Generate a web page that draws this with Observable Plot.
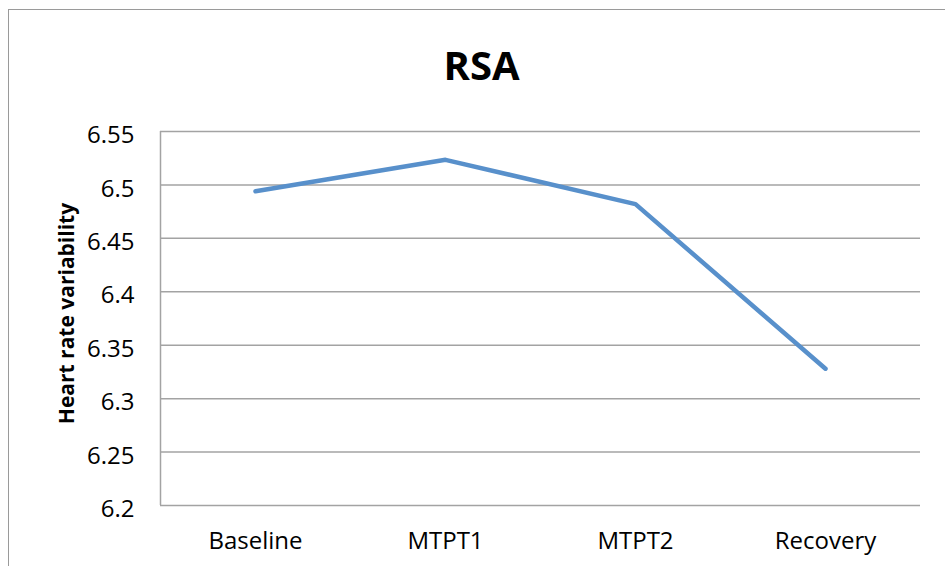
<!DOCTYPE html>
<html>
<head>
<meta charset="utf-8">
<script src="https://cdn.jsdelivr.net/npm/d3@7"></script>
<script src="https://cdn.jsdelivr.net/npm/@observablehq/plot@0.6"></script>
<style>
  html, body { margin: 0; padding: 0; background: #fff; overflow: hidden; }
  #wrap { position: relative; width: 945px; height: 566px; overflow: hidden; }
  #border { position: absolute; left: 8px; top: 9px; width: 1000px; height: 700px;
            border: 1.5px solid #9a9a9a; box-sizing: border-box; }
  #chart { position: absolute; left: 0; top: 0; }
  #chart svg { font-family: "Open Sans", sans-serif; }
</style>
</head>
<body>
<div id="wrap">
  <div id="border"></div>
  <div id="chart"></div>
</div>
<script>
// Phases of the protocol and mean RSA (heart rate variability) at each
const phases = ["Baseline", "MTPT1", "MTPT2", "Recovery"];
const rsa = [6.494, 6.5235, 6.482, 6.328];
const yTicks = [6.2, 6.25, 6.3, 6.35, 6.4, 6.45, 6.5, 6.55];
const yTickLabels = ["6.2", "6.25", "6.3", "6.35", "6.4", "6.45", "6.5", "6.55"];
const title = "RSA";
const yLabel = "Heart rate variability";

const data = phases.map((p, i) => ({i, phase: p, value: rsa[i]}));

const plot = Plot.plot({
  width: 945,
  height: 566,
  marginLeft: 160,
  marginRight: 25,
  marginTop: 131,
  marginBottom: 61,
  style: {fontFamily: "'Open Sans', sans-serif", background: "transparent"},
  x: {type: "linear", domain: [-0.5, phases.length - 0.5]},
  y: {domain: [6.2, 6.55]},
  marks: [
    Plot.ruleY(yTicks, {stroke: "#a3a3a3", strokeWidth: 1.5, strokeOpacity: 1}),
    Plot.ruleX([-0.5], {stroke: "#a3a3a3", strokeWidth: 1.5, strokeOpacity: 1}),
    Plot.axisY({
      ticks: yTicks,
      tickFormat: (d) => yTickLabels[yTicks.indexOf(d)] ?? d,
      tickSize: 0, tickPadding: 26, fontSize: 24, fill: "#000", label: null, dy: 4
    }),
    Plot.axisX({
      ticks: d3.range(phases.length),
      tickFormat: (d) => phases[d],
      tickSize: 0, tickPadding: 26, fontSize: 24, fill: "#000", label: null
    }),
    Plot.line(data, {
      x: "i", y: "value", stroke: "#5890cb", strokeWidth: 4.5,
      strokeLinecap: "round", strokeLinejoin: "round"
    }),
    Plot.text([title], {
      text: (d) => d, frameAnchor: "top", dx: -59, dy: -64,
      textAnchor: "middle", lineAnchor: "middle",
      fontSize: 40, fontWeight: "bold", fill: "#000"
    }),
    Plot.text([yLabel], {
      text: (d) => d, frameAnchor: "left", rotate: -90, dx: -93, dy: -5,
      textAnchor: "middle", lineAnchor: "middle",
      fontSize: 21, fontWeight: "bold", fill: "#000"
    })
  ]
});

document.getElementById("chart").appendChild(plot);
</script>
</body>
</html>
